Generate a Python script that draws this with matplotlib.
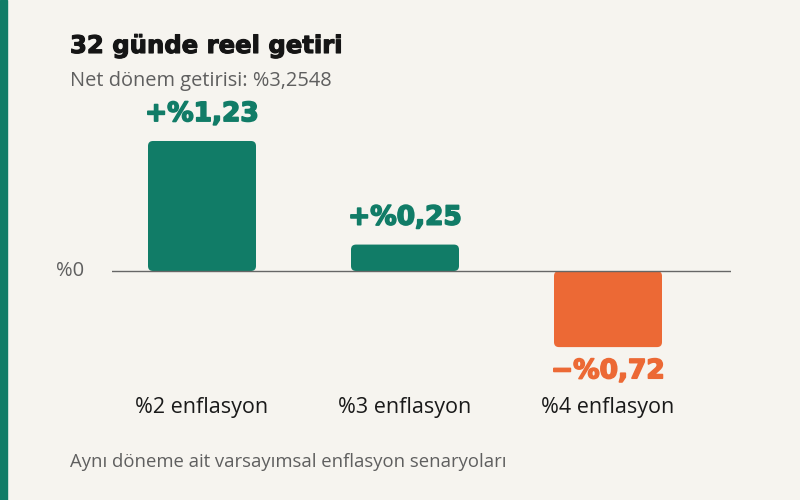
import matplotlib
matplotlib.use("Agg")
import matplotlib.pyplot as plt
import matplotlib.patheffects as pe
from matplotlib.patches import FancyBboxPatch, Rectangle

# senaryolar ve reel getiri (%)
scenarios = ["%2 enflasyon", "%3 enflasyon", "%4 enflasyon"]
real_returns = [1.23, 0.25, -0.72]
value_labels = ["+%1,23", "+%0,25", "\u2212%0,72"]

title = "32 günde reel getiri"
subtitle = "Net dönem getirisi: %3,2548"
footnote = "Aynı döneme ait varsayımsal enflasyon senaryoları"

BG = "#f6f4ef"
GREEN = "#117c67"
ORANGE = "#ec6935"
GREY = "#5f5f5f"

fig = plt.figure(figsize=(8, 5), dpi=100, facecolor=BG)
# green stripe at the left edge
fig.patches.append(Rectangle((0, 0), 7 / 800, 1, transform=fig.transFigure,
                             color=GREEN, zorder=0))

# axes: x from 112 to 731 px, y from 100 to 400 px (top-down)
ax = fig.add_axes([112 / 800, 100 / 500, (731 - 112) / 800, 300 / 500])
ax.set_facecolor(BG)
px_per_unit = 105.7
ax.set_xlim(-90 / 203, 529 / 203)
ax.set_ylim(-(400 - 271) / px_per_unit, (271 - 100) / px_per_unit)
for s in ax.spines.values():
    s.set_visible(False)
ax.set_xticks([])
ax.set_yticks([])

colors = [GREEN if v >= 0 else ORANGE for v in real_returns]
bars = ax.bar(range(len(scenarios)), real_returns, width=108 / 203, color=colors)

ax.axhline(0, color="#666666", lw=1, zorder=3)

# replace with rounded bars
fig.canvas.draw()
x0, y0 = ax.transData.transform((0, 0))
x1, y1 = ax.transData.transform((1, 1))
sx, sy = x1 - x0, y1 - y0
r = 5
for b, c in zip(bars, colors):
    b.set_visible(False)
    y, h = b.get_y(), b.get_height()
    if h < 0:
        y, h = y + h, -h
    p = FancyBboxPatch((b.get_x(), y), b.get_width(), h,
                       boxstyle="round,pad=0,rounding_size=%f" % (r / sx),
                       mutation_aspect=sx / sy, fc=c, ec="none", zorder=2)
    ax.add_patch(p)

for i, (v, lab) in enumerate(zip(real_returns, value_labels)):
    c = GREEN if v >= 0 else ORANGE
    if v >= 0:
        t = ax.annotate(lab, (i, v), xytext=(0, 10), textcoords="offset points",
                        ha="center", va="bottom", fontsize=19, fontweight="bold",
                        color=c, family="DejaVu Sans")
    else:
        t = ax.annotate(lab, (i, v), xytext=(0, -8), textcoords="offset points",
                        ha="center", va="top", fontsize=19, fontweight="bold",
                        color=c, family="DejaVu Sans")
    # a bit heavier, like the original
    t.set_path_effects([pe.withStroke(linewidth=1.2, foreground=c)])

for i, s in enumerate(scenarios):
    fig.text((202 + 203 * i) / 800, 1 - 408 / 500, s, ha="center", va="center",
             fontsize=15.5, color="#1a1a1a", family="Open Sans")

fig.text(70 / 800, 1 - 271 / 500, "%0", ha="center", va="center",
         fontsize=14.5, color=GREY, family="Open Sans")

t = fig.text(70 / 800, 1 - 46 / 500, title, ha="left", va="center",
             fontsize=17.5, fontweight="bold", color="#151515", family="DejaVu Sans")
t.set_path_effects([pe.withStroke(linewidth=0.8, foreground="#151515")])
fig.text(70 / 800, 1 - 81 / 500, subtitle, ha="left", va="center",
         fontsize=14.4, color=GREY, family="Open Sans")
fig.text(70 / 800, 1 - 462 / 500, footnote, ha="left", va="center",
         fontsize=13.3, color=GREY, family="Open Sans")

fig.savefig("out.png", dpi=100, facecolor=BG)
